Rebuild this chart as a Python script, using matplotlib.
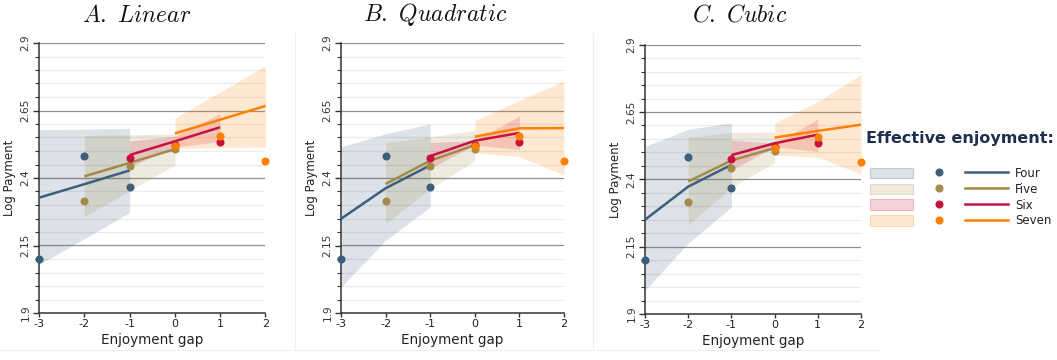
import matplotlib
matplotlib.use("Agg")
import matplotlib.pyplot as plt
import matplotlib.patches as mpatches
from matplotlib.lines import Line2D
import numpy as np

plt.rcParams['mathtext.fontset'] = 'cm'

# ---------------- data ----------------
groups = ["Four", "Five", "Six", "Seven"]
colors = ["#3d5f7e", "#a38b47", "#c8123c", "#ff8000"]

four_x = [-3, -2, -1]
five_x = [-2, -1, 0]
six_x = [-1, 0, 1]
seven_x = [0, 1, 2]
xs = [four_x, five_x, six_x, seven_x]

# observed means (same in every panel)
four_pts = [2.101, 2.482, 2.368]
five_pts = [2.316, 2.443, 2.507]
six_pts = [2.475, 2.521, 2.535]
seven_pts = [2.517, 2.556, 2.463]
points = [four_pts, five_pts, six_pts, seven_pts]

# Panel A: linear fit
lin_fit = [[2.327, 2.377, 2.428], [2.406, 2.456, 2.507],
           [2.485, 2.536, 2.588], [2.565, 2.616, 2.667]]
lin_lo = [[2.079, 2.175, 2.272], [2.257, 2.353, 2.449],
          [2.441, 2.515, 2.535], [2.510, 2.512, 2.515]]
lin_hi = [[2.579, 2.581, 2.584], [2.557, 2.560, 2.563],
          [2.537, 2.555, 2.638], [2.622, 2.719, 2.816]]

# Panel B: quadratic fit
quad_fit = [[2.249, 2.362, 2.447], [2.378, 2.464, 2.522],
            [2.481, 2.538, 2.567], [2.553, 2.584, 2.585]]
quad_lo = [[1.996, 2.169, 2.293], [2.231, 2.360, 2.464],
           [2.436, 2.522, 2.506], [2.494, 2.479, 2.411]]
quad_hi = [[2.515, 2.564, 2.600], [2.531, 2.553, 2.575],
           [2.532, 2.538, 2.630], [2.612, 2.688, 2.759]]

# Panel C: cubic fit
cub_fit = [[2.250, 2.373, 2.454], [2.392, 2.470, 2.516],
           [2.490, 2.534, 2.566], [2.555, 2.580, 2.603]]
cub_lo = [[1.988, 2.163, 2.297], [2.231, 2.370, 2.462],
          [2.435, 2.521, 2.503], [2.490, 2.482, 2.420]]
cub_hi = [[2.522, 2.586, 2.610], [2.556, 2.574, 2.575],
          [2.546, 2.534, 2.623], [2.610, 2.689, 2.789]]

titles = [r"$\mathit{A.\ Linear}$", r"$\mathit{B.\ Quadratic}$", r"$\mathit{C.\ Cubic}$"]
fits = [lin_fit, quad_fit, cub_fit]
los = [lin_lo, quad_lo, cub_lo]
his = [lin_hi, quad_hi, cub_hi]

x_ticks = [-3, -2, -1, 0, 1, 2]
x_ticklabels = ["-3", "-2", "-1", "0", "1", "2"]
y_major = [1.9, 2.15, 2.4, 2.65, 2.9]
y_ticklabels = ["1.9", "2.15", "2.4", "2.65", "2.9"]

# ---------------- figure ----------------
W, H = 1057, 360
fig = plt.figure(figsize=(W / 100, H / 100), dpi=100)

# faint panel separators
for xp in [295, 593]:
    fig.add_artist(Line2D([xp / W, xp / W], [1 - 33 / H, 1 - 350 / H],
                          color="#efefef", lw=0.8, transform=fig.transFigure))
fig.add_artist(Line2D([0, 880 / W], [1 - 350 / H, 1 - 350 / H],
                      color="#efefef", lw=0.8, transform=fig.transFigure))

ax_px = [(39, 265.5, 43, 313), (341, 564, 43, 313), (645, 861, 44.7, 314)]
title_cx = [137, 435, 740]

for k, (l, r, t, b) in enumerate(ax_px):
    ax = fig.add_axes([l / W, 1 - b / H, (r - l) / W, (b - t) / H])
    ax.set_xlim(-3, 2)
    ax.set_ylim(1.9, 2.9)
    ax.set_yticks(y_major)
    ax.set_yticklabels(y_ticklabels, rotation=90, va="center", fontsize=7.5, color="#333333")
    ax.set_yticks(np.arange(1.9, 2.901, 0.05), minor=True)
    ax.set_xticks(x_ticks)
    ax.set_xticklabels(x_ticklabels, fontsize=8, color="#222222")
    ax.tick_params(axis="y", which="major", length=4, width=1, color="#333333", pad=2)
    ax.tick_params(axis="y", which="minor", length=3, width=0.8, color="#333333")
    ax.tick_params(axis="x", which="major", length=3, width=1, color="#333333", pad=1.5)
    for s in ["top", "right"]:
        ax.spines[s].set_visible(False)
    for s in ["left", "bottom"]:
        ax.spines[s].set_color("#333333")
        ax.spines[s].set_linewidth(1.1)
    # grid
    for yv in np.arange(1.95, 2.901, 0.05):
        if any(abs(yv - m) < 1e-6 for m in y_major):
            ax.axhline(yv, color="#8f8f8f", lw=0.9, zorder=0.5)
        else:
            ax.axhline(yv, color="#ebebeb", lw=0.9, zorder=0.4)

    for g in range(4):
        ax.fill_between(xs[g], los[k][g], his[k][g], color=colors[g], alpha=0.18,
                        lw=0, zorder=1 + g * 0.1)
    for g in range(4):
        ax.plot(xs[g], fits[k][g], color=colors[g], lw=1.8, zorder=3 + g * 0.1,
                solid_capstyle="butt", clip_on=False)
    for g in range(4):
        ax.plot(xs[g], points[g], "o", color=colors[g], ms=4.8, lw=0,
                zorder=4 + g * 0.1, clip_on=False)

    ax.set_xlabel("Enjoyment gap", fontsize=9.75, color="#222222", labelpad=3)
    ax.set_ylabel("Log Payment", fontsize=8.5, color="#222222", labelpad=3)
    fig.text(title_cx[k] / W, 1 - 15 / H, titles[k], fontsize=17, ha="center",
             va="center", color="#111111")

# ---------------- legend ----------------
fig.text(866 / W, 1 - 138 / H, "Effective enjoyment:", fontsize=11.5,
         fontweight="bold", color="#1f2d4f", ha="left", va="center")

patch_h = [mpatches.Patch(facecolor=matplotlib.colors.to_rgba(c, 0.18),
                          edgecolor=matplotlib.colors.to_rgba(c, 0.25), lw=0.8)
           for c in colors]
dot_h = [Line2D([], [], marker="o", color=c, lw=0, ms=4.8) for c in colors]
line_h = [Line2D([], [], color=c, lw=1.8) for c in colors]
handles = patch_h + dot_h + line_h
labels = [""] * 8 + groups
leg = fig.legend(handles, labels, ncol=3, loc="upper left",
                 bbox_to_anchor=(870 / W, 1 - 167 / H), frameon=False,
                 fontsize=8.5, handlelength=3.64, handleheight=1.0,
                 handletextpad=0.59, columnspacing=-0.21, labelspacing=0.24,
                 borderpad=0, borderaxespad=0)
for txt in leg.get_texts():
    txt.set_color("#222222")

fig.savefig("out.png", dpi=100)
